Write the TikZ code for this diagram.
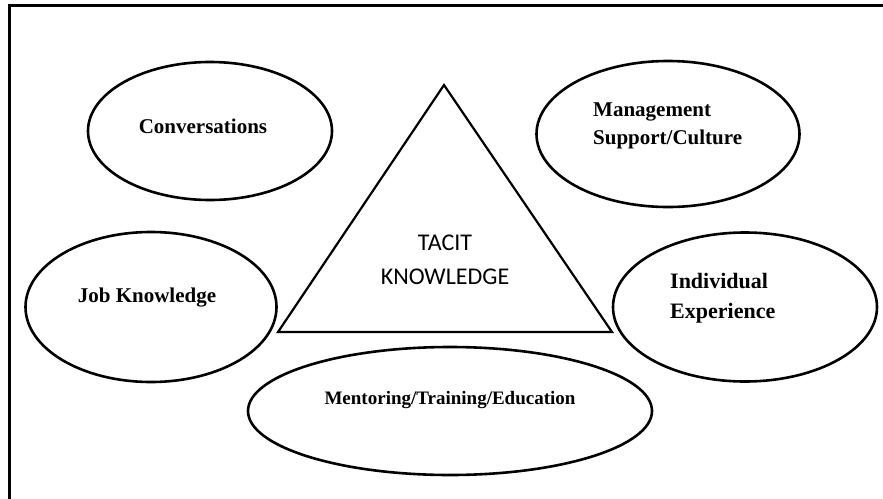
\documentclass[tikz,border=0pt]{standalone}
\usepackage{fontspec}
\setmainfont{Liberation Serif}
\newfontfamily\calib{Carlito}
\usetikzlibrary{shapes.geometric}
\begin{document}
\begin{tikzpicture}[x=1pt,y=-1pt,
  oval/.style={draw,ellipse,line width=2.6pt,inner sep=0pt},
  lbl/.style={font=\fontsize{20}{28}\selectfont\bfseries,inner sep=0pt,align=left},
  tri/.style={draw,line width=2.2pt,line join=miter}]
\useasboundingbox (0,0) rectangle (883,498);
% frame (top and left edges visible)
\coordinate (ftr) at (884,5);
\coordinate (ftl) at (9,5);
\coordinate (fbl) at (9,499);
\draw[line width=3pt] (ftr) -- (ftl) -- (fbl);
% ellipses
\node[oval,minimum width=244pt,minimum height=138pt] (conv) at (210,131) {};
\node[oval,minimum width=263pt,minimum height=146pt] (mgmt) at (668,134) {};
\node[oval,minimum width=251pt,minimum height=150pt] (job) at (151,307) {};
\node[oval,minimum width=264pt,minimum height=149pt] (indiv) at (745,307) {};
\node[oval,minimum width=404pt,minimum height=128pt] (ment) at (450,411) {};
% triangle
\coordinate (tl) at (278,332);
\coordinate (tt) at (444,85);
\coordinate (tr) at (612,332);
\draw[tri] (tl) -- (tt) -- (tr) -- cycle;
% labels
\node[lbl,font=\fontsize{21}{28}\selectfont\bfseries] (tconv) at (203,126) {Conversations};
\node[lbl,anchor=west,font=\fontsize{21}{28}\selectfont\bfseries] (tmgmt) at (593,126) {Management\\Support/Culture};
\node[lbl,font=\fontsize{21}{28}\selectfont\bfseries] (tjob) at (147,298) {Job Knowledge};
\node[lbl,anchor=west,font=\fontsize{22}{30}\selectfont\bfseries] (tindiv) at (670,298) {Individual\\Experience};
\node[lbl,font=\fontsize{19}{28}\selectfont\bfseries] (tment) at (450,400) {Mentoring/Training/Education};
\node[font=\calib\fontsize{24}{34}\selectfont,align=center,inner sep=0pt] (tacit) at (445,260) {TACIT\\KNOWLEDGE};
\end{tikzpicture}
\end{document}
